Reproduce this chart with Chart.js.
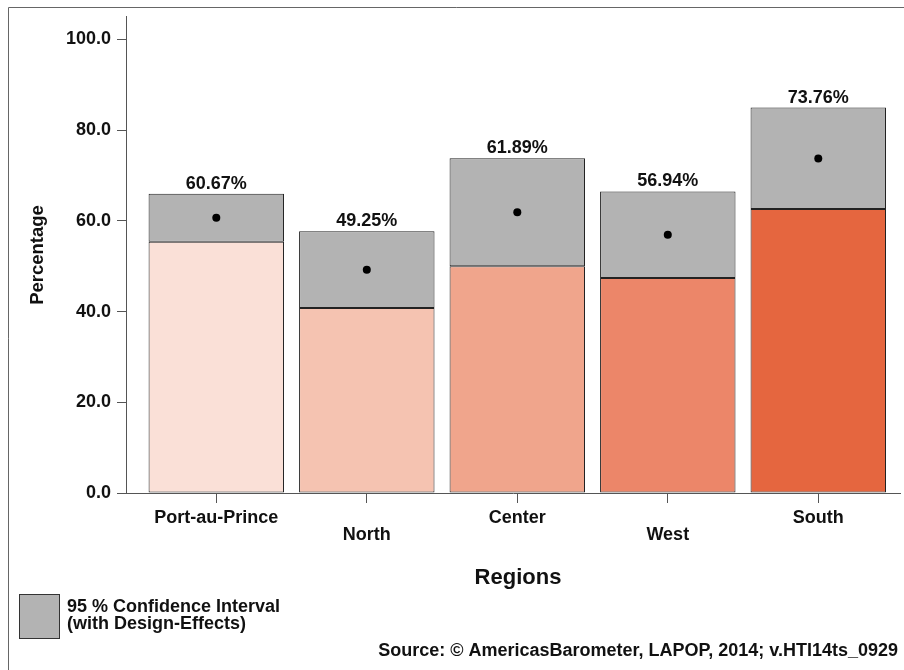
<!DOCTYPE html>
<html>
<head>
<meta charset="utf-8">
<title>Regions</title>
<script src="https://cdn.jsdelivr.net/npm/chart.js@4/dist/chart.umd.min.js"></script>
<style>
  html, body { margin: 0; padding: 0; background: #fff; }
</style>
</head>
<body>
<canvas id="chart" width="904" height="670"></canvas>
<script>
// data
var regions = ['Port-au-Prince', 'North', 'Center', 'West', 'South'];
var means = [60.67, 49.25, 61.89, 56.94, 73.76];
var lowerCI = [55.4, 40.8, 50.0, 47.4, 62.6];
var upperCI = [66.0, 57.7, 73.8, 66.5, 85.0];
var yTicks = [0, 20, 40, 60, 80, 100];

var barColors = ['#fae0d7', '#f5c3b1', '#f0a58c', '#ec8669', '#e5663f'];
var ciColor = '#b3b3b3';
var FONT = '"Liberation Sans", Arial, sans-serif';

var extras = {
    id: 'extras',
    beforeDraw: function(chart) {
        var ctx = chart.ctx;
        ctx.save();
        ctx.strokeStyle = '#666';
        ctx.lineWidth = 1;
        ctx.beginPath();
        ctx.moveTo(8.5, 670);
        ctx.lineTo(8.5, 7.5);
        ctx.lineTo(904, 7.5);
        ctx.stroke();
        ctx.restore();
    },
    afterDatasetsDraw: function(chart) {
        var ctx = chart.ctx;
        var xs = chart.scales.x, ys = chart.scales.y;
        ctx.save();
        ctx.fillStyle = '#111';
        ctx.font = 'bold 18px ' + FONT;
        ctx.textAlign = 'center';
        ctx.textBaseline = 'alphabetic';
        means.forEach(function(m, i) {
            ctx.fillText(m.toFixed(2) + '%', xs.getPixelForValue(i), ys.getPixelForValue(upperCI[i]) - 5);
        });
        ctx.restore();
    },
    afterDraw: function(chart) {
        var ctx = chart.ctx;
        ctx.save();
        ctx.fillStyle = '#111';
        ctx.textBaseline = 'middle';

        // axis titles
        ctx.font = 'bold 18.5px ' + FONT;
        ctx.save();
        ctx.translate(38, 255);
        ctx.rotate(-Math.PI / 2);
        ctx.textAlign = 'center';
        ctx.fillText('Percentage', 0, 0);
        ctx.restore();

        ctx.font = 'bold 22px ' + FONT;
        ctx.textAlign = 'center';
        ctx.fillText('Regions', 518, 578);

        // legend
        ctx.fillStyle = ciColor;
        ctx.fillRect(19, 594, 41, 44);
        ctx.strokeStyle = '#333';
        ctx.lineWidth = 1;
        ctx.strokeRect(19.5, 594.5, 40, 44);
        ctx.fillStyle = '#111';
        ctx.font = 'bold 18px ' + FONT;
        ctx.textAlign = 'left';
        ctx.fillText('95 % Confidence Interval', 67, 607);
        ctx.fillText('(with Design-Effects)', 67, 624);

        // source
        ctx.textAlign = 'right';
        ctx.fillText('Source: \u00a9 AmericasBarometer, LAPOP, 2014; v.HTI14ts_0929', 898, 651);
        ctx.restore();
    }
};

var ctx = document.getElementById('chart').getContext('2d');

var chart = new Chart(ctx, {
    type: 'bar',
    data: {
        datasets: [
            {
                type: 'scatter',
                data: means.map(function(m, i) { return { x: i, y: m }; }),
                backgroundColor: '#000',
                borderWidth: 0,
                pointRadius: 4,
                order: 0
            },
            {
                data: upperCI.map(function(u, i) { return { x: i, y: [lowerCI[i], u] }; }),
                backgroundColor: ciColor,
                borderColor: '#222',
                borderWidth: 1,
                borderSkipped: false,
                grouped: false,
                barPercentage: 0.9,
                categoryPercentage: 1.0,
                order: 1
            },
            {
                data: lowerCI.map(function(l, i) { return { x: i, y: [0, l] }; }),
                backgroundColor: barColors,
                borderColor: '#222',
                borderWidth: 1,
                borderSkipped: false,
                grouped: false,
                barPercentage: 0.9,
                categoryPercentage: 1.0,
                order: 2
            }
        ]
    },
    options: {
        responsive: false,
        animation: false,
        layout: { padding: { top: 16, left: 0, right: 0, bottom: 0 } },
        plugins: {
            legend: { display: false },
            tooltip: { enabled: false }
        },
        scales: {
            x: {
                type: 'linear',
                offset: false,
                min: -0.6,
                max: 4.543,
                afterBuildTicks: function(scale) {
                    scale.ticks = regions.map(function(r, i) { return { value: i }; });
                },
                afterFit: function(scale) { scale.height = 177; },
                grid: { offset: false, drawOnChartArea: false, tickLength: 10, color: '#555' },
                border: { color: '#555', width: 1 },
                ticks: {
                    autoSkip: false,
                    maxRotation: 0,
                    padding: 6,
                    color: '#111',
                    font: { family: FONT, size: 18, weight: 'bold', lineHeight: 0.95 },
                    callback: function(v) {
                        var i = Math.round(v);
                        return i % 2 ? ['', regions[i]] : regions[i];
                    }
                }
            },
            y: {
                min: 0,
                max: 105,
                afterBuildTicks: function(scale) {
                    scale.ticks = yTicks.map(function(v) { return { value: v }; });
                },
                afterFit: function(scale) { scale.width = 126; },
                grid: { drawOnChartArea: false, tickLength: 9, color: '#555' },
                border: { color: '#555', width: 1 },
                ticks: {
                    padding: 6,
                    color: '#111',
                    font: { family: FONT, size: 18, weight: 'bold' },
                    callback: function(v) { return v.toFixed(1); }
                }
            }
        }
    },
    plugins: [extras]
});
</script>
</body>
</html>
